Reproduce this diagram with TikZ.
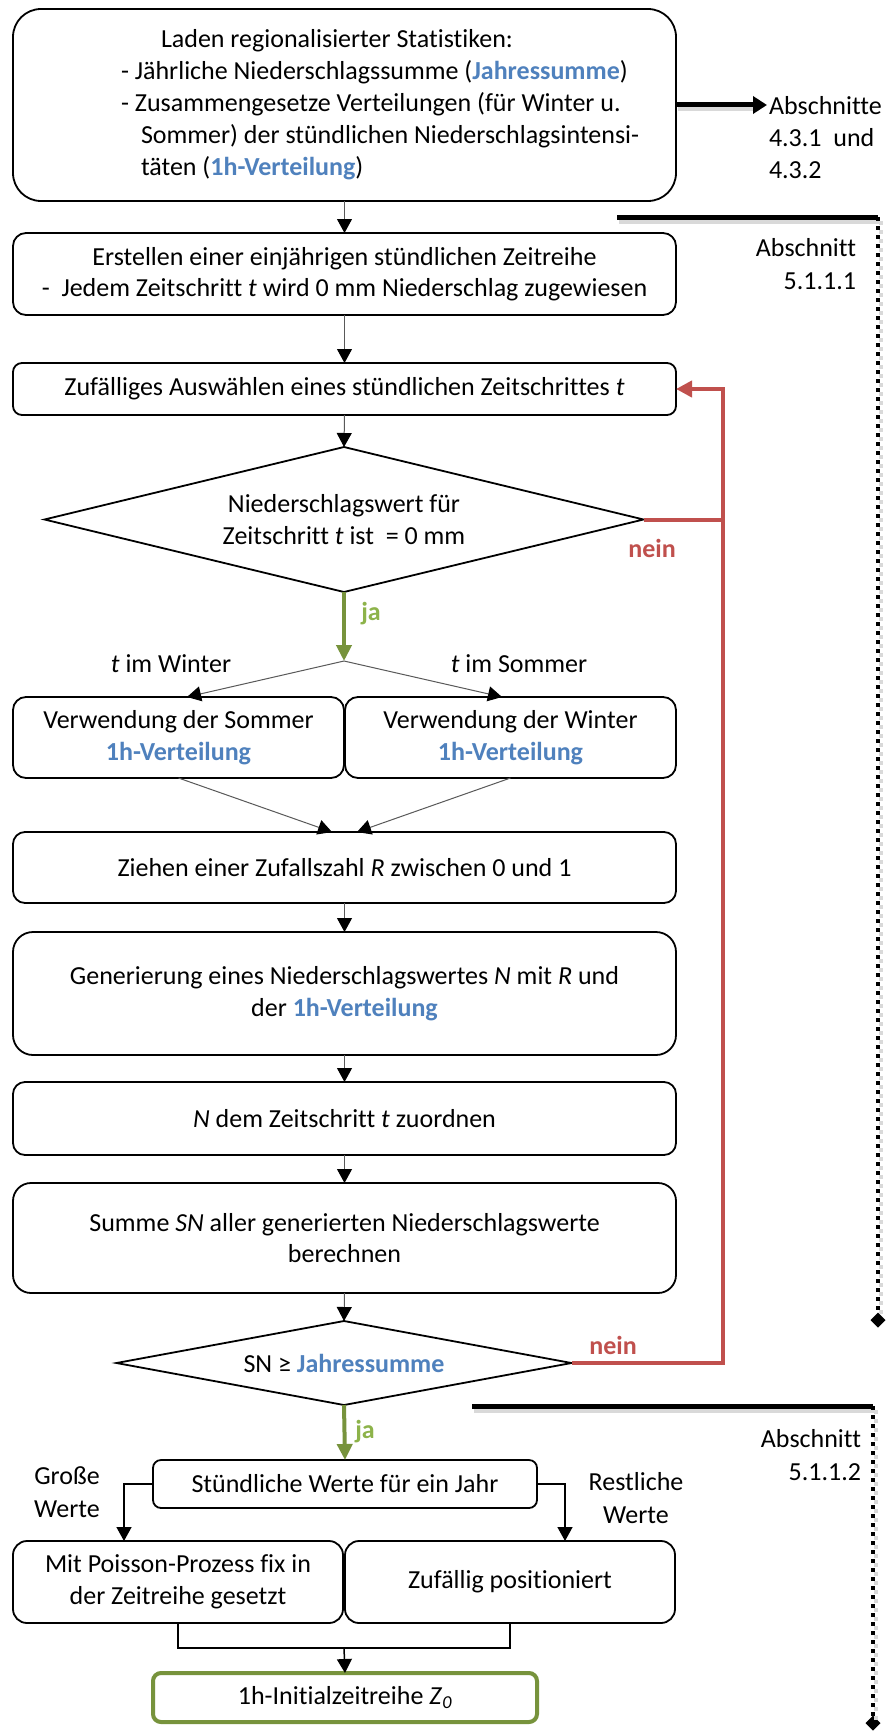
\documentclass[tikz,border=0pt]{standalone}
\usepackage{fontspec}
\setmainfont[Ligatures=NoCommon]{Carlito}
\usetikzlibrary{arrows.meta,shapes.geometric,calc}
\definecolor{bl}{RGB}{79,129,189}
\definecolor{rd}{RGB}{192,80,77}
\definecolor{gn}{RGB}{119,147,60}
\definecolor{gnt}{RGB}{141,179,74}
\newcommand{\hv}[1]{\textcolor{bl}{\textbf{#1}}}
\begin{document}
\begin{tikzpicture}[x=1pt,y=-1pt,
  every node/.style={inner sep=0pt, outer sep=0pt, font=\fontsize{26}{31.5}\selectfont},
  box/.style={draw, line width=1.8pt, rectangle, align=center},
  dec/.style={draw, line width=1.8pt, diamond, align=center},
  conn/.style={draw=black!65, line width=1pt, -{Triangle[width=15pt,length=14pt,color=black]}},
  elbowarrow/.style={draw=black, line width=1.5pt, -{Triangle[width=15pt,length=14pt]}},
  elbow/.style={draw=black, line width=1.5pt},
  yes/.style={draw=gn, line width=4pt, -{Triangle[width=15pt,length=16pt]}},
  no/.style={draw=rd, line width=4pt},
  noarrow/.style={draw=rd, line width=4pt, -{Triangle[width=16pt,length=16pt]}},
  sect/.style={draw=black, line width=5pt},
  sectdot/.style={draw=black, line width=4.5pt, dash pattern=on 4pt off 5pt},
  shadowl/.style={draw=black!15, line width=5pt},
  shadowd/.style={draw=black!15, line width=4.5pt, dash pattern=on 4pt off 5pt},
  marker/.style={diamond, fill=black, minimum size=15pt, inner sep=0pt},
  lab/.style={font=\fontsize{26}{33}\selectfont}
]
\fill[white] (0,0) rectangle (889,1731);
\useasboundingbox (0,0) rectangle (889,1731);

% ---- boxes ----
\node[box, minimum width=663pt, minimum height=192pt, rounded corners=28pt] (b1) at (344.5,105) {};
\node[anchor=west, align=left, font=\fontsize{26}{32}\selectfont] (t1) at (121,105)
 {\hspace*{40pt}Laden regionalisierter Statistiken:\\
  - Jährliche Niederschlagssumme (\hv{Jahressumme})\\
  - Zusammengesetze Verteilungen (für Winter u.\\
  \hspace*{20pt}Sommer) der stündlichen Niederschlagsintensi-\\
  \hspace*{20pt}täten (\hv{1h-Verteilung})};

\node[box, minimum width=663pt, minimum height=82pt, rounded corners=13pt] (b2) at (344.5,274)
 {Erstellen einer einjährigen stündlichen Zeitreihe\\-\ \ Jedem Zeitschritt \textit{t} wird 0 mm Niederschlag zugewiesen};
\node[box, minimum width=663pt, minimum height=52pt, rounded corners=9pt] (b3) at (344.5,389)
 {Zufälliges Auswählen eines stündlichen Zeitschrittes \textit{t}};
\node[dec, aspect=4.13, minimum width=599pt, minimum height=145pt] (d1) at (344,519.5)
 {Niederschlagswert für\\Zeitschritt \textit{t} ist\ \ = 0 mm};

\node (lw) at (171,664) {\textit{t} im Winter};
\node (ls) at (519,664) {\textit{t} im Sommer};
\node[box, minimum width=331pt, minimum height=81pt, rounded corners=13pt] (b4l) at (178.5,737.5)
 {Verwendung der Sommer\\\hv{1h-Verteilung}};
\node[box, minimum width=331pt, minimum height=81pt, rounded corners=13pt] (b4r) at (510.5,737.5)
 {Verwendung der Winter\\\hv{1h-Verteilung}};

\node[box, minimum width=663pt, minimum height=71pt, rounded corners=12pt] (b5) at (344.5,867.5)
 {Ziehen einer Zufallszahl \textit{R} zwischen 0 und 1};
\node[box, minimum width=663pt, minimum height=123pt, rounded corners=20pt] (b6) at (344.5,993.5)
 {Generierung eines Niederschlagswertes \textit{N} mit \textit{R} und\\der \hv{1h-Verteilung}};
\node[box, minimum width=663pt, minimum height=73pt, rounded corners=12pt] (b7) at (344.5,1118.5)
 {\textit{N} dem Zeitschritt \textit{t} zuordnen};
\node[box, minimum width=663pt, minimum height=110pt, rounded corners=18pt] (b8) at (344.5,1238)
 {Summe \textit{SN} aller generierten Niederschlagswerte\\berechnen};
\node[dec, aspect=5.4, minimum width=455pt, minimum height=84pt] (d2) at (344,1363)
 {SN ≥ \hv{Jahressumme}};

\node[box, minimum width=384pt, minimum height=48pt, rounded corners=8pt] (b9) at (345,1484)
 {Stündliche Werte für ein Jahr};
\node[lab, align=center] (g1) at (67,1492) {Große\\Werte};
\node[lab, align=center] (r1) at (636,1498) {Restliche\\Werte};
\node[box, minimum width=330pt, minimum height=82pt, rounded corners=14pt] (b10l) at (178,1582)
 {Mit Poisson-Prozess fix in\\der Zeitreihe gesetzt};
\node[box, minimum width=330pt, minimum height=82pt, rounded corners=14pt] (b10r) at (510,1582)
 {Zufällig positioniert};
\node[box, draw=gn, line width=4pt, minimum width=384pt, minimum height=49pt, rounded corners=8pt] (bg) at (345,1697.5)
 {1h-Initialzeitreihe \textit{Z}\textsubscript{\textit{0}}};

% ---- labels ----
\node[anchor=west, align=left, font=\fontsize{26}{32}\selectfont] (a1) at (769,138) {Abschnitte\\4.3.1\ \ und\\4.3.2};
\node[lab, anchor=east, align=right] (a2) at (856,264.5) {Abschnitt\\5.1.1.1};
\node[lab, anchor=east, align=right] (a3) at (861,1455.5) {Abschnitt\\5.1.1.2};
\node (j1) at (371,614) {\textcolor{gnt}{\textbf{ja}}};
\node (j2) at (365,1432) {\textcolor{gnt}{\textbf{ja}}};
\node (n1) at (652,548) {\textcolor{rd}{\textbf{nein}}};
\node (n2) at (613,1345) {\textcolor{rd}{\textbf{nein}}};

% ---- coordinates ----
\coordinate (sp) at (344,661);
\coordinate (tl) at (187,697);
\coordinate (tr) at (502,697);
\coordinate (cl) at (332,832);
\coordinate (cr) at (357,832);
\coordinate (rv) at (723,1363);
\coordinate (el) at (124,1541);
\coordinate (er) at (565,1541);
\coordinate (mg) at (344,1648);
\coordinate (s1a) at (617,217);
\coordinate (s1b) at (878,217);
\coordinate (s2a) at (472,1406);
\coordinate (s2b) at (873,1406);
\node[marker] (m1) at (878,1320) {};
\node[marker] (m2) at (873,1723) {};

% ---- section lines with shadows ----
\draw[shadowl] ($(s1a)+(2,4)$) -- ($(s1b)+(2,4)$);
\draw[shadowd] ($(s1b)+(3,4)$) -- ($(m1.north)+(3,4)$);
\draw[shadowl] ($(s2a)+(2,4)$) -- ($(s2b)+(2,4)$);
\draw[shadowd] ($(s2b)+(3,4)$) -- ($(m2.north)+(3,4)$);
\draw[shadowl] ($(b1.east)+(2,4)$) -- ($(b1.east -| a1.west)+(-14,4)$);
\draw[sect] (s1a) -- (s1b);
\draw[sectdot] (s1b) -- (m1.north);
\draw[sect] (s2a) -- (s2b);
\draw[sectdot] (s2b) -- (m2.north);
\draw[sect, -{Triangle[width=17pt,length=14pt]}] (b1.east) -- ($(b1.east -| a1.west)+(-2,0)$);

% ---- connectors ----
\draw[conn] (b1.south) -- (b2.north);
\draw[conn] (b2.south) -- (b3.north);
\draw[conn] (b3.south) -- (d1.north);
\draw[yes] (d1.south) -- (sp);
\draw[conn] (sp) -- (tl);
\draw[conn] (sp) -- (tr);
\draw[conn] (b4l.south) -- (cl);
\draw[conn] (b4r.south) -- (cr);
\draw[conn] (b5.south) -- (b6.north);
\draw[conn] (b6.south) -- (b7.north);
\draw[conn] (b7.south) -- (b8.north);
\draw[conn] (b8.south) -- (d2.north);
\draw[yes] (d2.south) -- (b9.north);
\draw[no] (d1.east) -- (d1.east -| rv);
\draw[noarrow] (d2.east) -- (rv) |- (b3.east);
\draw[elbowarrow] (b9.west) -| (el);
\draw[elbowarrow] (b9.east) -| (er);
\draw[elbow] (b10l.south) |- (mg) -| (b10r.south);
\draw[elbowarrow] (mg) -- (bg.north);
\end{tikzpicture}
\end{document}
